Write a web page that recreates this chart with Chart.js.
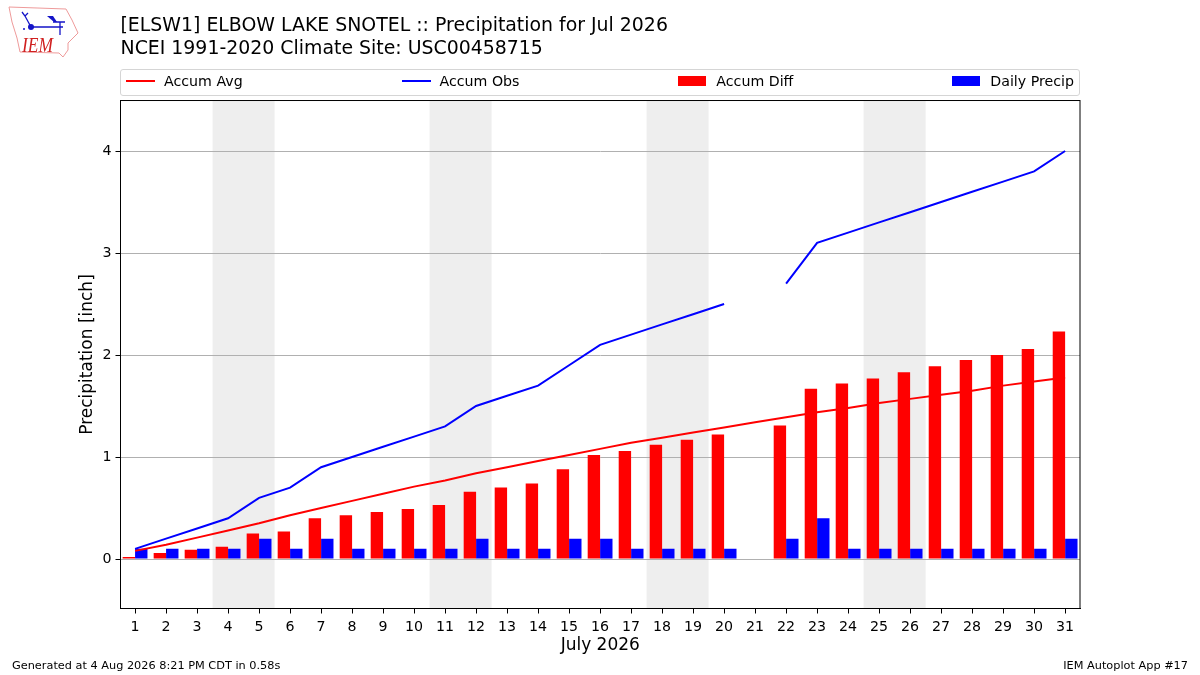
<!DOCTYPE html>
<html>
<head>
<meta charset="utf-8">
<title>Precipitation for Jul 2026</title>
<script src="https://cdn.jsdelivr.net/npm/chart.js@4"></script>
<style>
   html, body { margin: 0; padding: 0; background: #fff; }
   body { position: relative; width: 1200px; height: 675px; overflow: hidden; font-family: "DejaVu Sans", sans-serif; color: #000; }
   canvas { position: absolute; left: 0; top: 0; }
   #logo { position: absolute; left: 0; top: 0; }
   #legend { position: absolute; left: 120px; top: 69px; height: 21px; border: 1px solid #d5d5d5; border-radius: 3px;
      display: flex; justify-content: space-between; align-items: center; padding: 0 5px 4px; box-sizing: content-box; width: 948px; font-size: 14.2px; }
   #legend div { display: flex; align-items: center; }
   #legend i { display: block; width: 28px; margin-right: 10px; }
   #legend i.line { width: 29px; margin-right: 9px; }
   .foot { position: absolute; top: 659px; font-size: 11.3px; }
</style>
</head>
<body>
<canvas id="chart" width="1200" height="675"></canvas>
<svg id="logo" width="90" height="65" viewBox="0 0 90 65">
   <path d="M9 7 L66 9 L72 20 L78 33 L68 43 L68 50 L63 57 L59 53 L20 52 L17 38 L12 22 Z" fill="#fff" stroke="#ee9a9a" stroke-width="1"/>
   <path d="M32 27 L63 27 M53 22 L65 22 M60 22 L60 35 M22 12 L25 16 L31 27 M25 16 L28 13" fill="none" stroke="#1414c8" stroke-width="1.3"/>
   <path d="M47 16 L53 16 L57 22 L54 22 Z" fill="#1414c8"/>
   <circle cx="31" cy="27" r="3" fill="#1414c8"/>
   <circle cx="24" cy="29" r="1" fill="#1414c8"/>
   <text x="22" y="52" font-family="Liberation Serif" font-style="italic" font-size="20" textLength="31" lengthAdjust="spacingAndGlyphs" fill="#d02020">IEM</text>
</svg>
<div id="legend"></div>
<div class="foot" style="left:12px">Generated at 4 Aug 2026 8:21 PM CDT in 0.58s</div>
<div class="foot" style="right:12px">IEM Autoplot App #17</div>
<script>
const days = [1, 2, 3, 4, 5, 6, 7, 8, 9, 10, 11, 12, 13, 14, 15, 16, 17, 18, 19, 20, 21, 22, 23, 24, 25, 26, 27, 28, 29, 30, 31];
const accumAvg = [0.08, 0.14, 0.21, 0.28, 0.35, 0.43, 0.50, 0.57, 0.64, 0.71, 0.77, 0.84, 0.90, 0.96, 1.02, 1.08, 1.14, 1.19, 1.24, 1.29, 1.34, 1.39, 1.44, 1.48, 1.53, 1.57, 1.61, 1.65, 1.70, 1.74, 1.78];
const accumObs = [0.1, 0.2, 0.3, 0.4, 0.6, 0.7, 0.9, 1.0, 1.1, 1.2, 1.3, 1.5, 1.6, 1.7, 1.9, 2.1, 2.2, 2.3, 2.4, 2.5, null, 2.7, 3.1, 3.2, 3.3, 3.4, 3.5, 3.6, 3.7, 3.8, 4.0];
const accumDiff = [0.02, 0.06, 0.09, 0.12, 0.25, 0.27, 0.40, 0.43, 0.46, 0.49, 0.53, 0.66, 0.70, 0.74, 0.88, 1.02, 1.06, 1.12, 1.17, 1.22, null, 1.31, 1.67, 1.72, 1.77, 1.83, 1.89, 1.95, 2.00, 2.06, 2.23];
const dailyPrecip = [0.1, 0.1, 0.1, 0.1, 0.2, 0.1, 0.2, 0.1, 0.1, 0.1, 0.1, 0.2, 0.1, 0.1, 0.2, 0.2, 0.1, 0.1, 0.1, 0.1, null, 0.2, 0.4, 0.1, 0.1, 0.1, 0.1, 0.1, 0.1, 0.1, 0.2];
const yTicks = [0, 1, 2, 3, 4];
const weekends = [[3.5, 5.5], [10.5, 12.5], [17.5, 19.5], [24.5, 26.5]];
const titleLines = ['[ELSW1] ELBOW LAKE SNOTEL :: Precipitation for Jul 2026', 'NCEI 1991-2020 Climate Site: USC00458715'];

const fontFamily = '"DejaVu Sans", sans-serif';

function toPoints(values) {
   return days.map((d, i) => ({x: d, y: values[i]}));
}

// Bandes grises des week-ends + cadre du graphique
const plotDecor = {
   id: 'plotDecor',
   beforeDraw(chart) {
      const {ctx, chartArea, scales} = chart;
      ctx.save();
      ctx.fillStyle = '#eeeeee';
      weekends.forEach(([a, b]) => {
         const x0 = scales.x.getPixelForValue(a);
         const x1 = scales.x.getPixelForValue(b);
         ctx.fillRect(x0, chartArea.top, x1 - x0, chartArea.bottom - chartArea.top);
      });
      ctx.restore();
   },
   afterDraw(chart) {
      const {ctx, chartArea} = chart;
      ctx.save();
      ctx.strokeStyle = '#000';
      ctx.lineWidth = 1;
      ctx.strokeRect(chartArea.left, chartArea.top, chartArea.right - chartArea.left, chartArea.bottom - chartArea.top);
      ctx.restore();
   }
};

const chart = new Chart(document.getElementById('chart'), {
   type: 'bar',
   data: {
      datasets: [
         {type: 'line', label: 'Accum Avg', data: toPoints(accumAvg), borderColor: '#ff0000', backgroundColor: '#ff0000', borderWidth: 2, pointRadius: 0, tension: 0, order: 1},
         {type: 'line', label: 'Accum Obs', data: toPoints(accumObs), borderColor: '#0000ff', backgroundColor: '#0000ff', borderWidth: 2, pointRadius: 0, tension: 0, spanGaps: false, order: 1},
         {label: 'Accum Diff', data: toPoints(accumDiff), backgroundColor: '#ff0000', categoryPercentage: 0.8, barPercentage: 1, order: 2},
         {label: 'Daily Precip', data: toPoints(dailyPrecip), backgroundColor: '#0000ff', categoryPercentage: 0.8, barPercentage: 1, order: 2}
      ]
   },
   options: {
      responsive: false,
      animation: false,
      devicePixelRatio: 1,
      layout: {padding: {top: 14.5, left: 0, right: 120, bottom: 0}},
      plugins: {
         legend: {display: false},
         tooltip: {enabled: false},
         title: {
            display: true,
            text: titleLines,
            align: 'start',
            fullSize: false,
            color: '#000',
            font: {family: fontFamily, size: 18.9, weight: 'normal', lineHeight: 1.22},
            padding: {top: 0, bottom: 39.9}
         }
      },
      scales: {
         x: {
            type: 'linear',
            offset: false,
            min: 0.53,
            max: 31.48,
            afterBuildTicks: axis => { axis.ticks = days.map(d => ({value: d})); },
            afterFit: axis => { axis.height = 66.5; },
            ticks: {color: '#000', font: {family: fontFamily, size: 14.2}, padding: 5, maxRotation: 0, autoSkip: false, callback: v => v},
            grid: {offset: false, drawOnChartArea: false, tickColor: '#000', tickLength: 5},
            border: {color: '#000'},
            title: {display: true, text: 'July 2026', color: '#000', font: {family: fontFamily, size: 17}, padding: {top: 0, bottom: 19}}
         },
         y: {
            min: -0.485,
            max: 4.495,
            afterBuildTicks: axis => { axis.ticks = yTicks.map(v => ({value: v})); },
            afterFit: axis => { axis.width = 120.5; },
            ticks: {color: '#000', font: {family: fontFamily, size: 14.2}, padding: 4, callback: v => v},
            grid: {color: '#b0b0b0', tickColor: '#000', tickLength: 5},
            border: {color: '#000'},
            title: {display: true, text: 'Precipitation [inch]', color: '#000', font: {family: fontFamily, size: 17}, padding: {top: 77, bottom: 0}}
         }
      }
   },
   plugins: [plotDecor]
});

// Légende sur une ligne, étalée sur toute la largeur du graphique
const legendBox = document.getElementById('legend');
chart.data.datasets.forEach(ds => {
   const item = document.createElement('div');
   const handle = document.createElement('i');
   if (ds.type === 'line') handle.className = 'line';
   handle.style.height = ds.type === 'line' ? '2px' : '10px';
   handle.style.background = ds.backgroundColor;
   item.appendChild(handle);
   item.appendChild(document.createTextNode(ds.label));
   legendBox.appendChild(item);
});
</script>
</body>
</html>
